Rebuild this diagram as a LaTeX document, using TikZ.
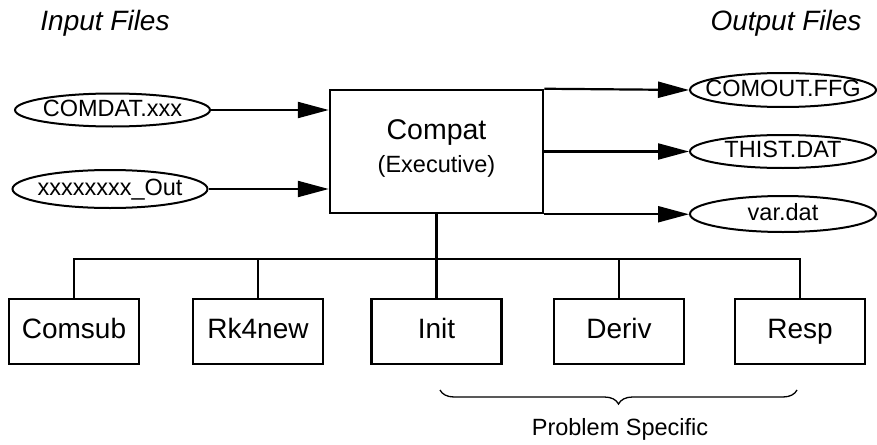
\documentclass[tikz,border=0pt]{standalone}
\usepackage{fontspec}
\setmainfont{Liberation Sans}
\usetikzlibrary{arrows.meta,shapes.geometric,decorations.pathreplacing}
\begin{document}
\begin{tikzpicture}[x=1pt,y=-1pt,
  file/.style={draw,line width=2pt,ellipse,inner xsep=-30pt,inner ysep=-6pt,text height=17pt,text depth=5pt,font=\fontsize{23.5}{26}\selectfont},
  modbox/.style={draw,line width=2.5pt,minimum width=130pt,minimum height=65pt,inner sep=0pt,text height=20pt,text depth=6pt,font=\fontsize{28}{30}\selectfont},
  conn/.style={line width=2.2pt},
  bus/.style={line width=1.8pt},
  arr/.style={conn,-{Triangle[length=31pt,width=16pt]}},
  title/.style={font=\fontsize{28}{32}\selectfont\itshape}]
\useasboundingbox (0,0) rectangle (877,444);
% titles
\node[title] (tin) at (105,23) {Input Files};
\node[title] (tout) at (786,23) {Output Files};
% input files
\node[file,minimum width=195pt,minimum height=33pt] (comdat) at (112.5,110) {COMDAT.xxx};
\node[file,minimum width=195pt,minimum height=38pt] (xout) at (110,189) {xxxxxxxx\_Out};
% executive
\node[draw,line width=2.5pt,minimum width=213pt,minimum height=123pt,inner sep=0pt] (compat) at (436.5,151.5) {};
\node[font=\fontsize{28.5}{30}\selectfont] (compatt) at (436.5,133) {Compat};
\node[font=\fontsize{23.5}{26}\selectfont] (compate) at (436.5,166) {(Executive)};
% output files
\node[file,minimum width=186pt,minimum height=34pt] (comout) at (783,90) {COMOUT.FFG};
\node[file,minimum width=186pt,minimum height=33pt] (thist) at (783,151.5) {THIST.DAT};
\node[file,minimum width=186pt,minimum height=36pt] (vardat) at (783,214) {var.dat};
% modules
\node[modbox] (comsub) at (74,331.5) {Comsub};
\node[modbox] (rk) at (258,331.5) {Rk4new};
\node[modbox] (init) at (436.5,331.5) {Init};
\node[modbox] (deriv) at (619,331.5) {Deriv};
\node[modbox] (resp) at (800,331.5) {Resp};
% input arrows
\draw[arr] (comdat.east) -- (comdat.east -| compat.west);
\draw[arr] (xout.east) -- (xout.east -| compat.west);
% output arrows
\draw[arr] (compat.north east) -- (comout.west);
\draw[arr] (compat.east) -- (thist.west);
\draw[arr] (compat.south east) -- (compat.south east -| vardat.west);
% bus
\coordinate (busl) at ([yshift=39pt]comsub.north);
\coordinate (busr) at ([yshift=39pt]resp.north);
\draw[conn] (compat.south) -- (init.north);
\draw[bus] (comsub.north) -- (busl) -- (busr) -- (resp.north);
\draw[bus] (rk.north) -- (rk.north |- busl);
\draw[bus] (deriv.north) -- (deriv.north |- busl);
% brace
\coordinate (bl) at (440,390);
\coordinate (br) at (797,390);
\draw[line width=1.3pt,decorate,decoration={brace,mirror,amplitude=14pt}] (bl) -- (br);
\node[font=\fontsize{23.5}{26}\selectfont] (ps) at (620,429) {Problem Specific};
\end{tikzpicture}
\end{document}
